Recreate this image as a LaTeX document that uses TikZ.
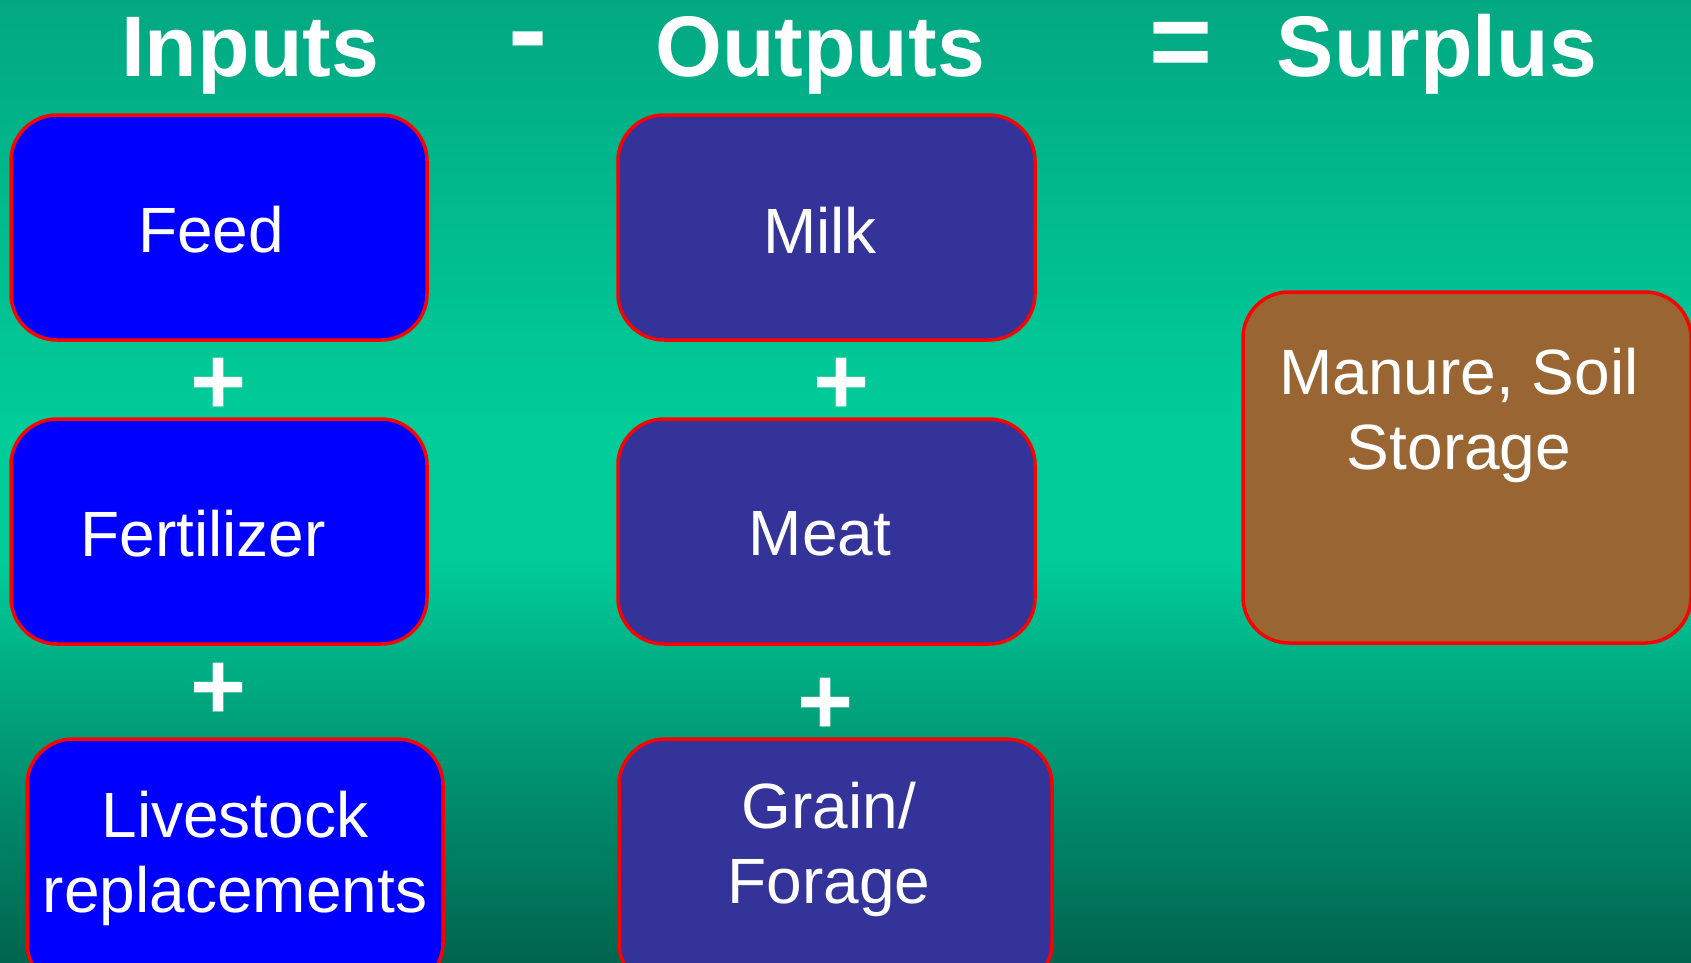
\documentclass[tikz,border=0pt]{standalone}
\usepackage{fontspec}
\setmainfont{Liberation Sans}
\begin{document}
\begin{tikzpicture}[x=1pt,y=-1pt,
  box/.style={draw=boxline, line width=3.5pt, rounded corners=46pt,
    inner sep=0pt, outer sep=0pt},
  inbox/.style={box, fill=inblue},
  outbox/.style={box, fill=outpurple},
  surbox/.style={box, fill=surbrown},
  label/.style={text=white, inner sep=0pt, align=center,
    font=\fontsize{64}{75}\selectfont},
  head/.style={text=white, inner sep=0pt, anchor=base,
    font=\fontsize{86}{100}\selectfont\bfseries},
  op/.style={text=white, inner sep=0pt, anchor=base,
    font=\fontsize{108}{110}\selectfont\bfseries},
  plus/.style={text=white, inner sep=0pt,
    font=\fontsize{96}{100}\selectfont\bfseries}]

\definecolor{bgtop}{RGB}{2,168,130}
\definecolor{bgmid}{RGB}{0,204,153}
\definecolor{bglow}{RGB}{0,160,122}
\definecolor{bgbot}{RGB}{0,100,78}
\definecolor{inblue}{RGB}{0,0,255}
\definecolor{outpurple}{RGB}{51,51,153}
\definecolor{surbrown}{RGB}{153,102,51}
\definecolor{boxline}{RGB}{255,0,0}

\useasboundingbox (0,0) rectangle (1691,962);
\clip (0,0) rectangle (1691,962);

% background: vertical green gradient, brightest a little above the middle
\shade[top color=bgtop, bottom color=bgmid] (0,0) rectangle (1691,421);
\fill[bgmid] (0,420) rectangle (1691,561);
\shade[top color=bgmid, bottom color=bglow] (0,560) rectangle (1691,721);
\shade[top color=bglow, bottom color=bgbot] (0,720) rectangle (1691,962);

% headings
\node[head] (hin)  at (250,76) {Inputs};
\node[op, font=\fontsize{118}{120}\selectfont\bfseries] (minus) at (528,69) {-};
\node[head] (hout) at (820,76) {Outputs};
\node[op]   (equal) at (1181,78) {=};
\node[head] (hsur) at (1437,76) {Surplus};

% inputs column
\node[inbox, minimum width=416pt, minimum height=225pt] (feed) at (219,227.5) {};
\node[label] (feedt) at (211,230) {Feed};
\node[plus] (p1) at (219,386) {+};
\node[inbox, minimum width=416pt, minimum height=225pt] (fert) at (219,531.5) {};
\node[label] (fertt) at (203,534) {Fertilizer};
\node[plus] (p2) at (219,691) {+};
\node[inbox, minimum width=416pt, minimum height=250pt] (live) at (235,864) {};
\node[label] (livet) at (235,858) {Livestock\\replacements};

% outputs column
\node[outbox, minimum width=417pt, minimum height=225pt] (milk) at (826.5,227.5) {};
\node[label] (milkt) at (820,230) {Milk};
\node[plus] (p3) at (842,386) {+};
\node[outbox, minimum width=417pt, minimum height=225pt] (meat) at (826.5,531.5) {};
\node[label] (meatt) at (820,534) {Meat};
\node[plus] (p4) at (826,706) {+};
\node[outbox, minimum width=433pt, minimum height=250pt] (grain) at (835.5,864) {};
\node[label] (graint) at (829,849) {Grain/\\Forage};

% surplus
\node[surbox, minimum width=448pt, minimum height=351pt] (man) at (1467,467.5) {};
\node[label] (mant) at (1459,415) {Manure, Soil\\Storage};
\end{tikzpicture}
\end{document}
